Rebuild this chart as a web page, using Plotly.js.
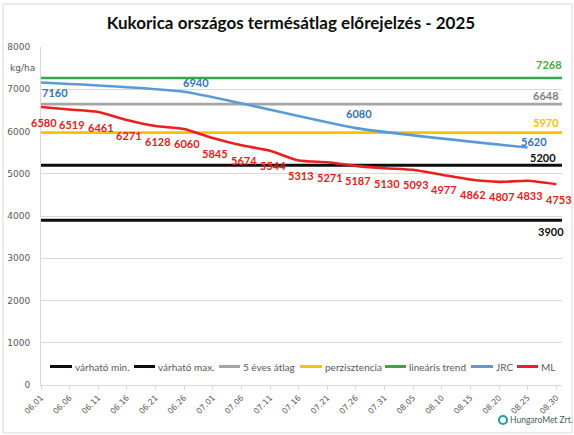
<!DOCTYPE html>
<html>
<head>
<meta charset="utf-8">
<script src="https://cdn.plot.ly/plotly-3.0.1.min.js"></script>
<style>
html,body{margin:0;padding:0;background:#fff;}
#chart{width:574px;height:435px;}
</style>
</head>
<body>
<div id="chart"></div>
<script>
// ---- data ----
const dates = ['2025-06-01','2025-06-06','2025-06-11','2025-06-16','2025-06-21','2025-06-26','2025-07-01','2025-07-06','2025-07-11','2025-07-16','2025-07-21','2025-07-26','2025-07-31','2025-08-05','2025-08-10','2025-08-15','2025-08-20','2025-08-25','2025-08-30'];
const tickLabels = ['06.01','06.06','06.11','06.16','06.21','06.26','07.01','07.06','07.11','07.16','07.21','07.26','07.31','08.05','08.10','08.15','08.20','08.25','08.30'];
const mlValues = [6580,6519,6461,6271,6128,6060,5845,5674,5544,5313,5271,5187,5130,5093,4977,4862,4807,4833,4753];
const jrcDates = ['2025-06-01','2025-06-26','2025-07-26','2025-08-25'];
const jrcValues = [7160,6940,6080,5620];
const lineSpan = ['2025-06-01','2025-08-31'];
const minValue = 3900;
const maxValue = 5200;
const avg5Value = 6648;
const persistValue = 5970;
const trendValue = 7268;
const seriesNames = ['várható min.','várható max.','5 éves átlag','perzisztencia','lineáris trend','JRC','ML'];
const yTicks = [0,1000,2000,3000,4000,5000,6000,7000,8000];

// ---- styles ----
const colors = ['#0d0d0d','#0d0d0d','#A5A5A5','#FFC000','#35A84A','#5B9BD5','#E8201E'];
const labelColors = {min:'#0d0d0d', max:'#0d0d0d', avg:'#7F7F7F', persist:'#FFC000', trend:'#3AAA4E', jrc:'#2E75B6', ml:'#E3201E'};

// plot area geometry in px (for paper conversion of decorations)
const L = 41, R = 562, T = 47, B = 385;
const px = x => (x - L) / (R - L);
const py = y => (B - y) / (B - T);

const flatValues = [minValue, maxValue, avg5Value, persistValue, trendValue];
const traces = [];
flatValues.forEach((v, i) => {
  traces.push({
    type:'scatter', mode:'lines', name: seriesNames[i],
    x: lineSpan, y: [v, v],
    line:{color: colors[i], width: i < 2 ? 3 : 2.6},
    hoverinfo:'skip', showlegend:false
  });
});
traces.push({
  type:'scatter', mode:'lines', name: seriesNames[5],
  x: jrcDates, y: jrcValues,
  line:{color: colors[5], width: 2.6, shape:'spline', smoothing:0.5},
  hoverinfo:'skip', showlegend:false
});
traces.push({
  type:'scatter', mode:'lines', name: seriesNames[6],
  x: dates, y: mlValues,
  line:{color: colors[6], width: 2.6, shape:'spline', smoothing:0.5},
  hoverinfo:'skip', showlegend:false
});

const labelFont = (c) => ({family:'Lato, "Open Sans", sans-serif', size:11, color:c, weight:700});
const annotations = [];

// ML labels
mlValues.forEach((v, i) => {
  annotations.push({x: dates[i], y: v, text: '<b>' + v + '</b>', showarrow:false,
    xshift: 2.5, yshift: -15, font: labelFont(labelColors.ml)});
});
// JRC labels
const jrcShift = [[14,-10],[12,9],[3,15],[6,6]];
jrcValues.forEach((v, i) => {
  annotations.push({x: jrcDates[i], y: v, text: '<b>' + v + '</b>', showarrow:false,
    xshift: jrcShift[i][0], yshift: jrcShift[i][1], font: labelFont(labelColors.jrc)});
});
// right-side labels of flat lines
const flatLabelStyle = [
  [labelColors.min, 4, -11],
  [labelColors.max, -4, 8],
  [labelColors.avg, -1, 9],
  [labelColors.persist, -1, 10],
  [labelColors.trend, 2, 13]
];
flatValues.forEach((v, i) => {
  annotations.push({x: lineSpan[1], y: v, text: '<b>' + v + '</b>', showarrow:false,
    xanchor:'right', xshift: flatLabelStyle[i][1], yshift: flatLabelStyle[i][2],
    font: labelFont(flatLabelStyle[i][0])});
});

// unit label
annotations.push({xref:'paper', yref:'paper', x: px(8), y: py(68), xanchor:'left', yanchor:'middle',
  text:'kg/ha', showarrow:false, font:{family:'"DejaVu Sans", sans-serif', size:9, color:'#595959'}});

// manual legend (Excel style, inside plot area)
const legendPos = [[50,72],[134,155],[219,240],[300,322],[385,406],[471,493],[517,538]];
const legY = 366.5;
const shapes = [];
seriesNames.forEach((n, i) => {
  shapes.push({type:'line', xref:'paper', yref:'paper',
    x0: px(legendPos[i][0]), x1: px(legendPos[i][1]), y0: py(legY), y1: py(legY),
    line:{color: colors[i], width: 3}});
  annotations.push({xref:'paper', yref:'paper', x: px(legendPos[i][1] + 0.5), y: py(legY),
    xanchor:'left', yanchor:'middle', text: n, showarrow:false,
    font:{family:'Lato, sans-serif', size:10, color:'#595959'}});
});

// chart border
shapes.push({type:'rect', xref:'paper', yref:'paper', x0: px(3), x1: px(572), y0: py(4), y1: py(433),
  line:{color:'#D9D9D9', width:1}, fillcolor:'rgba(0,0,0,0)', layer:'below'});

// logo
shapes.push({type:'circle', xref:'paper', yref:'paper', x0: px(499), x1: px(507), y0: py(416), y1: py(424),
  line:{color:'#2A9D9A', width:2.2}, fillcolor:'rgba(0,0,0,0)'});
annotations.push({xref:'paper', yref:'paper', x: px(508), y: py(420), xanchor:'left', yanchor:'middle',
  text:'HungaroMet Zrt.', showarrow:false, font:{family:'Lato, sans-serif', size:8.5, color:'#4A5A66'}});

const layout = {
  width:574, height:435,
  margin:{l:L, r:574-R, t:T, b:435-B, pad:0},
  paper_bgcolor:'#ffffff', plot_bgcolor:'#ffffff',
  showlegend:false,
  title:{text:'Kukorica országos termésátlag előrejelzés - 2025', x:291/574, xanchor:'center',
    y: 1 - 23/435, yanchor:'middle', yref:'container',
    font:{family:'Lato, sans-serif', size:17, color:'#0d0d0d', weight:700}},
  xaxis:{type:'date', range: lineSpan, tickvals: dates, ticktext: tickLabels, tickangle:-45,
    ticks:'outside', ticklen:4, tickcolor:'#D9D9D9', showgrid:false, zeroline:false,
    showline:true, linecolor:'#D9D9D9', linewidth:1,
    tickfont:{family:'"DejaVu Sans", sans-serif', size:8, color:'#595959'}},
  yaxis:{range:[0,8000], tickvals: yTicks, ticktext: yTicks.map(String), ticks:'',
    showgrid:true, gridcolor:'#D9D9D9', gridwidth:1, zeroline:false,
    showline:true, linecolor:'#D9D9D9', linewidth:1, ticklabelstandoff:8,
    tickfont:{family:'"DejaVu Sans", sans-serif', size:9, color:'#595959'}},
  shapes: shapes,
  annotations: annotations,
  hovermode:false
};

Plotly.newPlot('chart', traces, layout, {displayModeBar:false, staticPlot:true});
</script>
</body>
</html>
